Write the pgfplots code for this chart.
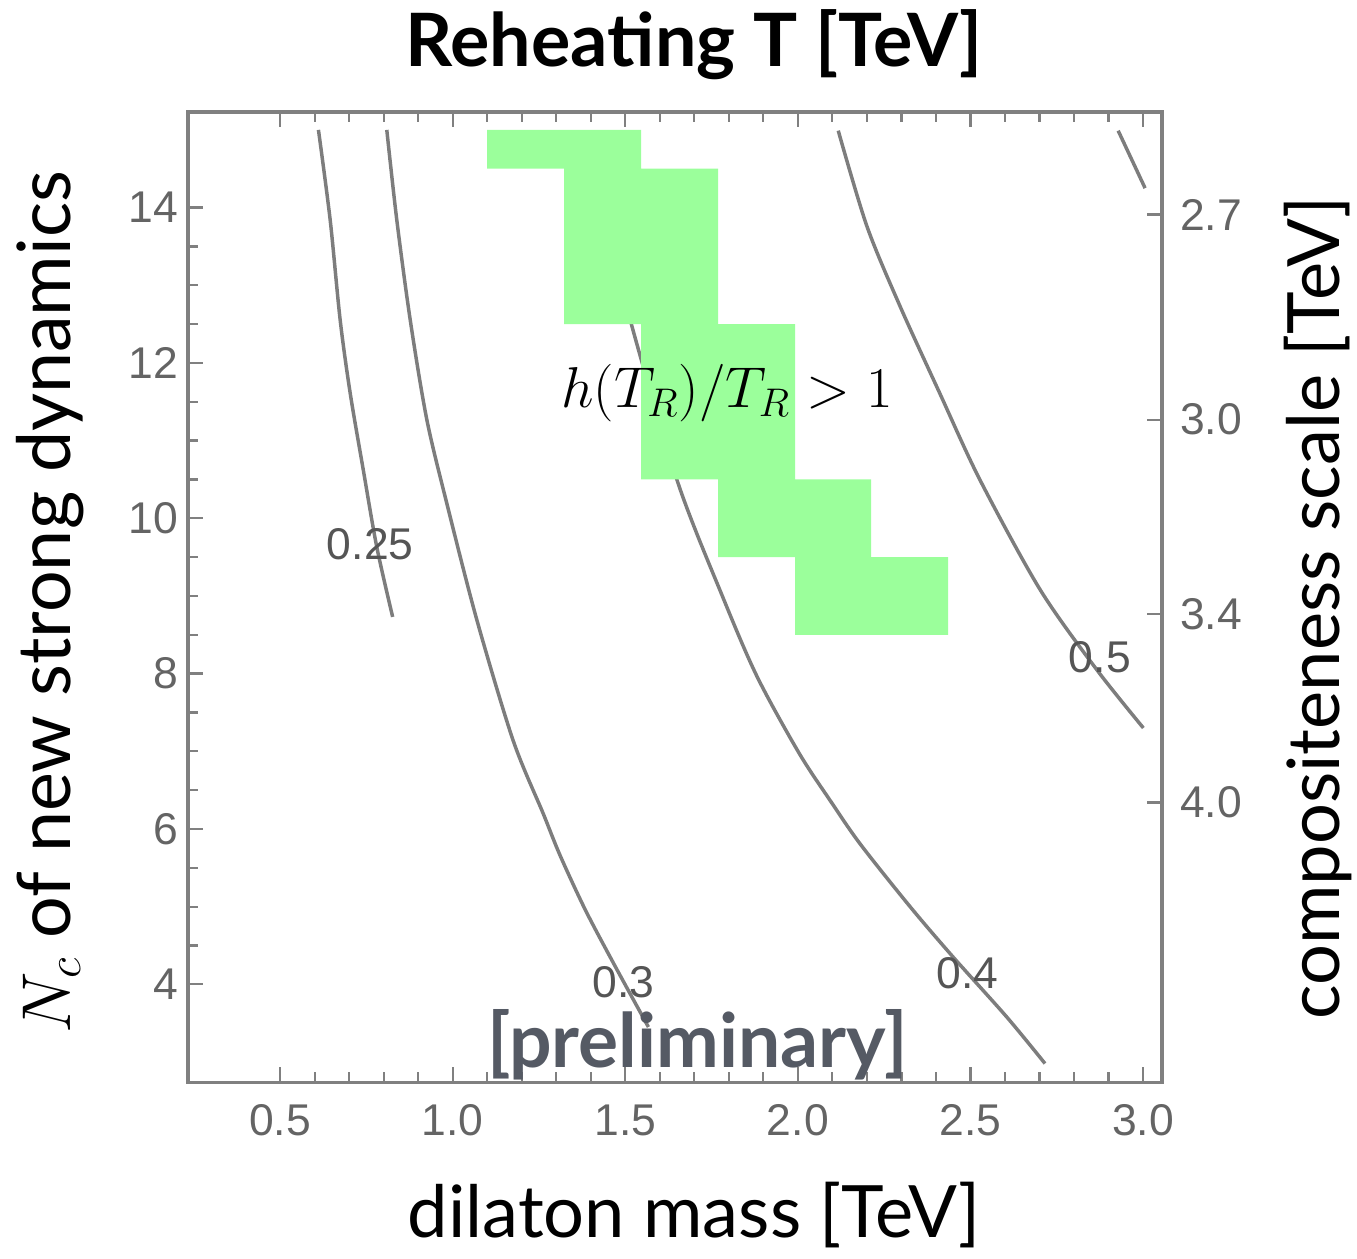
\documentclass[border=0pt]{standalone}
\usepackage{pgfplots}
\pgfplotsset{compat=1.18}
\usepackage{fontspec}
\setmainfont{Lato}
\newfontfamily\tickfont{Liberation Sans}
\definecolor{framegray}{RGB}{128,128,128}
\definecolor{tickgray}{RGB}{100,100,100}
\definecolor{labgray}{RGB}{85,85,85}
\definecolor{curvegray}{RGB}{125,125,125}
\definecolor{regiongreen}{RGB}{155,255,155}
\definecolor{prelim}{RGB}{85,90,100}

\pgfplotsset{
  base/.style={
    scale only axis, width=350.6pt, height=349.2pt,
    xmin=0.233, xmax=3.055, ymin=2.74, ymax=15.23,
    axis line style={framegray, line width=1.1pt},
    tick style={framegray, line width=0.8pt},
    tick align=inside,
    major tick length=5.4pt, minor tick length=3.6pt,
    ticklabel style={font=\tickfont\fontsize{16}{18}\selectfont, text=tickgray},
    /pgf/number format/assume math mode=true,
  },
  contour/.style={curvegray, line width=1.25pt, smooth, no markers},
}

\begin{document}
\begin{tikzpicture}
\begin{axis}[base, clip=false,
    xtick={0.5,1,...,3}, xtick pos=both, xticklabel pos=lower, minor x tick num=4,
    xticklabel style={yshift=-4.5pt, /pgf/number format/.cd, fixed, fixed zerofill, precision=1},
    ytick={4,6,...,14}, ytick pos=left, minor y tick num=3,
  ]
  % contours of the reheating temperature
  \addplot[contour] coordinates {
    (0.611,15.00) (0.645,13.84) (0.674,12.55) (0.703,11.61) (0.741,10.62)
    (0.780,9.63) (0.826,8.73)
  };
  \addplot[contour] coordinates {
    (0.809,15.00) (0.838,13.84) (0.877,12.55) (0.925,11.27) (0.983,10.19)
    (1.070,8.69) (1.175,7.14) (1.262,6.20) (1.311,5.66) (1.384,4.96)
    (1.466,4.27) (1.567,3.45)
  };
  \addplot[contour] coordinates {
    (1.389,14.98) (1.452,13.70) (1.520,12.46) (1.653,10.45) (1.782,8.99)
    (1.882,7.96) (2.003,6.98) (2.093,6.37) (2.180,5.81) (2.325,5.00)
    (2.450,4.35) (2.605,3.58) (2.716,2.98)
  };
  \addplot[contour] coordinates {
    (2.117,14.99) (2.200,13.76) (2.296,12.73) (2.410,11.62) (2.528,10.49)
    (2.702,9.08) (2.866,8.05) (3.001,7.30)
  };
  \addplot[contour] coordinates {(2.928,14.99) (3.006,14.25)};

  % region h(T_R)/T_R > 1
  \addplot[fill=regiongreen, draw=none] coordinates {
    (1.100,15.0) (1.546,15.0) (1.546,14.5) (1.769,14.5) (1.769,12.5)
    (1.992,12.5) (1.992,10.5) (2.212,10.5) (2.212,9.5) (2.435,9.5)
    (2.435,8.5) (1.992,8.5) (1.992,9.5) (1.769,9.5) (1.769,10.5)
    (1.546,10.5) (1.546,12.5) (1.323,12.5) (1.323,14.5) (1.100,14.5)
  } -- cycle;

  \node[labgray, font=\tickfont\fontsize{16}{18}\selectfont] at (axis cs:0.761,9.66) {0.25};
  \node[labgray, font=\tickfont\fontsize{16}{18}\selectfont] at (axis cs:1.494,4.03) {0.3};
  \node[labgray, font=\tickfont\fontsize{16}{18}\selectfont] at (axis cs:2.492,4.14) {0.4};
  \node[labgray, font=\tickfont\fontsize{16}{18}\selectfont] at (axis cs:2.875,8.21) {0.5};
  \node[font=\fontsize{20}{24}\selectfont] at (axis cs:1.795,11.61) {$h(T_R)/T_R>1$};
  \node[prelim, font=\bfseries\fontsize{27}{31}\selectfont] at (axis cs:1.709,3.22) {[preliminary]};

  \node[inner sep=0pt, font=\bfseries\fontsize{26.5}{30}\selectfont] at (rel axis cs:0.5195,1.069) {Reheating T [TeV]};
  \node[inner sep=0pt, font=\fontsize{26}{30}\selectfont] at (rel axis cs:0.5195,-0.137) {dilaton mass [TeV]};
  \node[inner sep=0pt, font=\fontsize{26.5}{30}\selectfont, rotate=90] at (rel axis cs:-0.1417,0.495) {$N_c$ of new strong dynamics};
  \node[inner sep=0pt, font=\fontsize{26}{30}\selectfont, rotate=90] at (rel axis cs:1.160,0.489) {compositeness scale [TeV]};

  \path (rel axis cs:-0.193,-0.1814) rectangle (rel axis cs:1.2002,1.1155);
\end{axis}
\begin{axis}[base, axis x line=none, axis y line*=right,
    ytick={13.91,11.27,8.77,6.34}, yticklabels={2.7,3.0,3.4,4.0},
    yticklabel style={xshift=3pt},
    minor y tick num=0,
  ]
\end{axis}
\end{tikzpicture}
\end{document}
